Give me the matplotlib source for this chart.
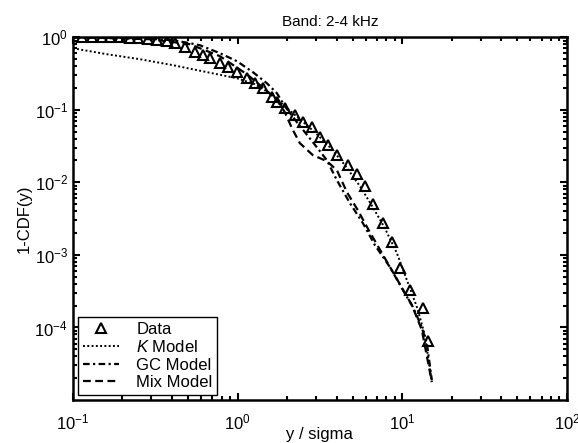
import matplotlib
matplotlib.use("Agg")
import matplotlib.pyplot as plt

plt.rcParams['font.family'] = ['Liberation Sans', 'DejaVu Sans']
plt.rcParams['mathtext.fontset'] = 'custom'
plt.rcParams['mathtext.rm'] = 'Liberation Sans'
plt.rcParams['mathtext.it'] = 'Liberation Sans:italic'

data_x = [0.1135, 0.130, 0.150, 0.168, 0.193, 0.222, 0.248, 0.285, 0.324, 0.372,
          0.416, 0.479, 0.551, 0.615, 0.679, 0.782, 0.873, 0.991, 1.138, 1.274,
          1.426, 1.614, 1.734, 1.936, 2.228, 2.489, 2.825, 3.162, 3.532, 4.009,
          4.677, 5.297, 5.929, 6.622, 7.621, 8.650, 9.661, 11.12, 13.34, 14.29]
data_y = [1.0, 1.0, 1.0, 1.0, 1.0, 0.98, 0.97, 0.94, 0.91, 0.88,
          0.83, 0.73, 0.62, 0.565, 0.51, 0.44, 0.386, 0.33, 0.272, 0.232,
          0.198, 0.149, 0.127, 0.105, 0.0843, 0.0675, 0.0576, 0.042, 0.0325, 0.0237,
          0.0173, 0.0130, 0.00887, 0.00501, 0.00274, 0.00150, 0.000658, 0.000327, 0.000185, 0.000065]

# K model
k_x = [0.100, 0.161, 0.255, 0.405, 0.652, 0.991, 1.274, 1.570, 1.936, 2.388,
       2.946, 3.633, 4.482, 5.529, 6.622, 7.834, 9.27, 10.66, 12.27, 13.71, 15.11]
k_y = [0.705, 0.583, 0.498, 0.412, 0.330, 0.272, 0.225, 0.169, 0.112, 0.0742,
       0.0491, 0.0305, 0.0173, 0.00887, 0.00455, 0.00234, 0.00106, 0.000450, 0.000191, 0.0000786, 0.0000177]

# GC model
gc_x = [0.100, 0.193, 0.294, 0.405, 0.513, 0.590, 0.782, 0.991, 1.239, 1.507,
        1.734, 1.936, 2.291, 2.864, 3.484, 4.009, 4.808, 5.766, 6.823, 8.414,
        10.09, 11.60, 12.97, 14.10, 15.11]
gc_y = [1.0, 0.984, 0.953, 0.909, 0.827, 0.776, 0.602, 0.467, 0.330, 0.232,
        0.169, 0.112, 0.0675, 0.0358, 0.0202, 0.0107, 0.00517, 0.00274, 0.00136, 0.000679,
        0.000327, 0.000191, 0.000108, 0.0000610, 0.0000188]

# Mix model
mix_x = [0.100, 0.294, 0.513, 0.782, 1.138, 1.466, 1.734, 1.936, 2.138, 2.388,
         2.864, 3.484, 4.009, 4.61, 5.37, 6.35, 7.834, 9.66, 11.43, 13.15, 15.11]
mix_y = [1.0, 0.939, 0.801, 0.547, 0.309, 0.192, 0.136, 0.0927, 0.0558, 0.0347,
         0.0237, 0.0196, 0.0147, 0.00733, 0.00414, 0.00206, 0.000904, 0.000396, 0.000204, 0.0000921, 0.0000177]

y_ticks = [1e-4, 1e-3, 1e-2, 1e-1, 1e0]

fig = plt.figure(figsize=(5.78, 4.43), dpi=100)
ax = fig.add_axes([0.126, 0.097, 0.855, 0.819])

ax.plot(data_x, data_y, linestyle='none', marker='^', markersize=7,
        markerfacecolor='none', markeredgecolor='black', markeredgewidth=1.5, label='Data')
ax.plot(k_x, k_y, color='black', linestyle=(0, (1, 1.2)), linewidth=1.4, label=r'$K$ Model')
ax.plot(gc_x, gc_y, color='black', linestyle=(0, (3, 1.5, 1, 1.5)), linewidth=1.6, label='GC Model')
ax.plot(mix_x, mix_y, color='black', linestyle=(0, (3.5, 2)), linewidth=1.6, label='Mix Model')

ax.set_xscale('log')
ax.set_yscale('log')
ax.set_xlim(0.1, 100)
ax.set_ylim(1e-5, 1)
ax.set_yticks(y_ticks)

for s in ax.spines.values():
    s.set_linewidth(1.8)
ax.tick_params(which='both', direction='in', top=True, right=True, labelsize=12, width=1.5)
ax.tick_params(which='major', length=5)
ax.tick_params(which='minor', length=3)
ax.tick_params(axis='x', pad=9)

ax.set_title('Band: 2-4 kHz', fontsize=11, x=0.52, pad=8)
ax.set_xlabel('y / sigma', fontsize=12, labelpad=-4)
ax.set_ylabel('1-CDF(y)', fontsize=12, labelpad=2)

leg = ax.legend(loc='lower left', fontsize=12, handlelength=2.2, borderpad=0.3,
                labelspacing=0.15, handletextpad=1.0, fancybox=False, framealpha=1,
                edgecolor='black', borderaxespad=0.3)
leg.get_frame().set_linewidth(1.0)

fig.savefig('out.png', dpi=100)
